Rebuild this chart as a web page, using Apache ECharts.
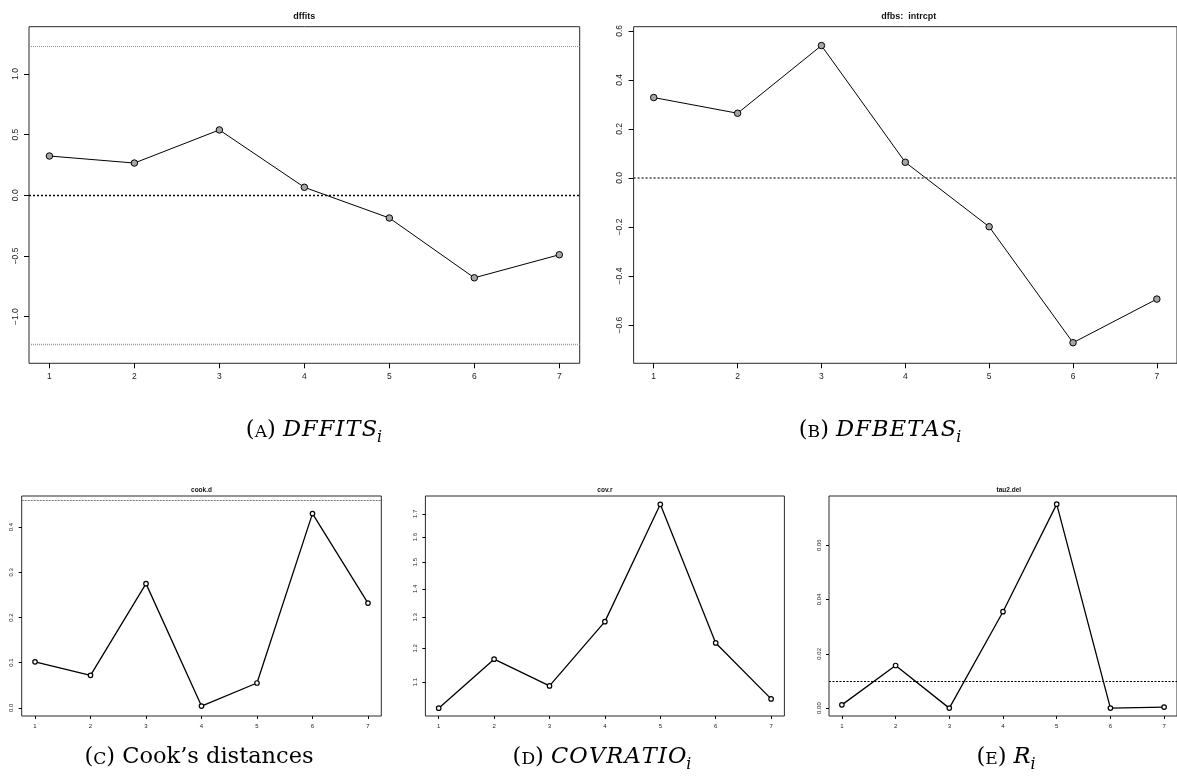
<!DOCTYPE html>
<html>
<head>
<meta charset="utf-8">
<script src="https://cdn.jsdelivr.net/npm/echarts@6/dist/echarts.min.js"></script>
<style>
  html, body { margin: 0; padding: 0; background: #fff; }
  #chart { width: 1177px; height: 779px; }
</style>
</head>
<body>
<div id="chart"></div>
<script>
// Influence diagnostics for a 7-study meta-analysis
const obsIds = [1, 2, 3, 4, 5, 6, 7];
const dffitsVals = [0.324, 0.266, 0.539, 0.066, -0.187, -0.680, -0.490];
const dfbsIntrcpt = [0.328, 0.264, 0.540, 0.064, -0.199, -0.672, -0.494];
const cookD = [0.102, 0.072, 0.275, 0.004, 0.055, 0.430, 0.232];
const covR = [1.028, 1.167, 1.089, 1.286, 1.742, 1.217, 1.053];
const tau2Del = [0.0012, 0.0157, 0.0000, 0.0355, 0.0751, 0.0000, 0.0004];

// reference lines
const dffitsCut = 1.227;
const cookCut = 0.455;
const tau2Cut = 0.0098;

// tick values
const dffitsTicks = [-1, -0.5, 0, 0.5, 1];
const dfbsTicks = [-0.6, -0.4, -0.2, 0, 0.2, 0.4, 0.6];
const cookTicks = [0, 0.1, 0.2, 0.3, 0.4];
const covTicks = [1.1, 1.2, 1.3, 1.4, 1.5, 1.6, 1.7];
const tau2Ticks = [0, 0.02, 0.04, 0.06];

const panelTitles = ['dffits', 'dfbs:  intrcpt', 'cook.d', 'cov.r', 'tau2.del'];

const SANS = '"Liberation Sans", Arial, Helvetica, sans-serif';
const SERIF = '"DejaVu Serif", "Liberation Serif", serif';

const big = { tickFont: 8.5, tickLen: 5, xMargin: 9, yMargin: 9, titleFont: 9,
              sym: 6.5, symFill: '#a6a6a6', symBorder: 1, lineW: 1 };
const small = { tickFont: 6, tickLen: 3, xMargin: 7, yMargin: 7, titleFont: 6.5,
                sym: 4.5, symFill: '#ffffff', symBorder: 1.2, lineW: 1.3 };

const panels = [
  { grid: { left: 29, top: 26.7, width: 550.7, height: 336.6 }, st: big,
    vals: dffitsVals, ymin: -1.385, ymax: 1.39, ticks: dffitsTicks, digits: 1,
    refs: [
      { y: 0, color: '#000', type: [2, 2], width: 1.3 },
      { y: dffitsCut, color: '#888', type: [1, 1], width: 1 },
      { y: -dffitsCut, color: '#999', type: [1, 1], width: 1.3 }
    ] },
  { grid: { left: 633.6, top: 26.7, width: 550.4, height: 336.6 }, st: big,
    vals: dfbsIntrcpt, ymin: -0.756, ymax: 0.617, ticks: dfbsTicks, digits: 1,
    refs: [ { y: 0, color: '#444', type: [2, 2], width: 1.5 } ] },
  { grid: { left: 21.7, top: 496, width: 359.6, height: 220 }, st: small,
    vals: cookD, ymin: -0.018, ymax: 0.469, ticks: cookTicks, digits: 1,
    refs: [ { y: cookCut, color: '#777', type: [2, 1], width: 1 } ] },
  { grid: { left: 425.4, top: 496, width: 359, height: 220 }, st: small,
    vals: covR, ymin: 1.0074, ymax: 1.78, ticks: covTicks, digits: 1, log: true,
    refs: [] },
  { grid: { left: 829, top: 496, width: 359.6, height: 220 }, st: small,
    vals: tau2Del, ymin: -0.0029, ymax: 0.0781, ticks: tau2Ticks, digits: 2,
    refs: [ { y: tau2Cut, color: '#000', type: [2, 1.5], width: 1.1 } ] }
];

const fmtNum = (v, d) => Number(v).toFixed(d).replace('-', '\u2212');

const grids = [], xAxes = [], yAxes = [], series = [], graphics = [];

panels.forEach((p, i) => {
  const st = p.st;
  grids.push(Object.assign({ show: true, borderColor: '#2a2a2a', borderWidth: 1,
                             backgroundColor: 'transparent', containLabel: false }, p.grid));
  xAxes.push({
    gridIndex: i, type: 'value', min: 0.76, max: 7.24, position: 'bottom',
    axisLine: { show: false, onZero: false }, splitLine: { show: false },
    axisTick: { show: true, inside: false, length: st.tickLen, customValues: obsIds,
                lineStyle: { color: '#000', width: 1 } },
    axisLabel: { show: true, customValues: obsIds, margin: st.xMargin,
                 fontSize: st.tickFont, fontFamily: SANS, color: '#222',
                 formatter: v => String(Math.round(v)) }
  });
  yAxes.push({
    gridIndex: i, type: p.log ? 'log' : 'value', min: p.ymin, max: p.ymax, position: 'left',
    axisLine: { show: false, onZero: false }, splitLine: { show: false },
    axisTick: { show: true, inside: false, length: st.tickLen, customValues: p.ticks,
                lineStyle: { color: '#000', width: 1 } },
    axisLabel: { show: true, customValues: p.ticks, margin: st.yMargin, rotate: 90,
                 fontSize: st.tickFont, fontFamily: SANS, color: '#222',
                 formatter: v => fmtNum(v, p.digits) }
  });
  series.push({
    type: 'line', xAxisIndex: i, yAxisIndex: i,
    data: obsIds.map((x, k) => [x, p.vals[k]]),
    symbol: 'circle', symbolSize: st.sym, showSymbol: true,
    itemStyle: { color: st.symFill, borderColor: '#000', borderWidth: st.symBorder },
    lineStyle: { color: '#000', width: st.lineW },
    z: 3, animation: false, silent: true,
    markLine: p.refs.length ? {
      silent: true, symbol: ['none', 'none'], label: { show: false },
      animation: false,
      data: p.refs.map(r => ({ yAxis: r.y,
        lineStyle: { color: r.color, type: r.type, width: r.width } }))
    } : undefined
  });
  // panel title
  graphics.push({
    type: 'text',
    x: p.grid.left + p.grid.width / 2,
    y: p.grid.top - (st === big ? 10.5 : 6),
    style: { text: panelTitles[i], fill: '#111', align: 'center', textAlign: 'center',
             verticalAlign: 'middle', textVerticalAlign: 'middle',
             font: `bold ${st.titleFont}px ${SANS}` }
  });
});

// sub-figure captions, laid out piece by piece (small caps label + math italic)
const measureCtx = document.createElement('canvas').getContext('2d');
function caption(cx, baseY, S, parts) {
  const segs = [];
  parts.forEach(pt => {
    const size = S * (pt.scale || 1);
    const font = `${pt.italic ? 'italic ' : ''}${size}px ${SERIF}`;
    measureCtx.font = font;
    // math symbols are set letter by letter with a little extra room between them
    const pieces = pt.math ? pt.t.split('') : [pt.t];
    pieces.forEach((t, k) => {
      const gap = (pt.math && k < pieces.length - 1) ? 0.05 * S : 0;
      segs.push({ t, font, size, dy: (pt.sub ? 0.22 * S : 0),
                  w: measureCtx.measureText(t).width + gap });
    });
  });
  const total = segs.reduce((a, s) => a + s.w, 0);
  let x = cx - total / 2;
  segs.forEach(s => {
    graphics.push({
      type: 'text', x: x, y: baseY - 0.34 * s.size + s.dy,
      style: { text: s.t, fill: '#000', font: s.font, align: 'left', textAlign: 'left',
               verticalAlign: 'middle', textVerticalAlign: 'middle' }
    });
    x += s.w;
  });
}
const CAP = 22.5;
function label(letter) {
  return [{ t: '(' }, { t: letter, scale: 0.76 }, { t: ')' }, { t: ' ' }];
}
const sub = { t: 'i', italic: true, scale: 0.7, sub: true };
caption(314, 438, CAP, label('A').concat([{ t: 'DFFITS', italic: true, math: true }, sub]));
caption(880, 438, CAP, label('B').concat([{ t: 'DFBETAS', italic: true, math: true }, sub]));
caption(199, 765, CAP, label('C').concat([{ t: 'Cook\u2019s distances' }]));
caption(602, 765, CAP, label('D').concat([{ t: 'COVRATIO', italic: true, math: true }, sub]));
caption(1006, 765, CAP, label('E').concat([{ t: 'R', italic: true, math: true }, sub]));

const chart = echarts.init(document.getElementById('chart'), null, { renderer: 'canvas' });
chart.setOption({
  backgroundColor: '#ffffff',
  animation: false,
  grid: grids,
  xAxis: xAxes,
  yAxis: yAxes,
  series: series,
  graphic: graphics
});
</script>
</body>
</html>
